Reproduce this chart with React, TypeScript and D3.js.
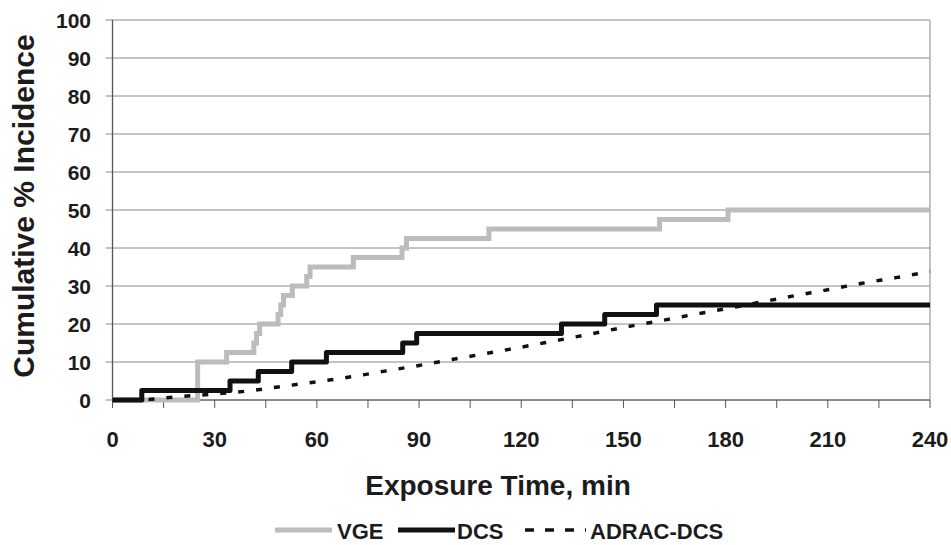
import React from "react";
import * as d3 from "d3";

// VGE cumulative incidence (step events: time in min, value in %)
const vgeTimes = [0, 25, 33.5, 41.5, 42.3, 43.2, 48.6, 49.4, 50.2, 52.8, 57, 58, 70.7, 85, 86.3, 110.5, 160.6, 180.7, 240];
const vgeValues = [0, 10, 12.5, 15, 17.5, 20, 22.5, 25, 27.5, 30, 32.5, 35, 37.5, 40, 42.5, 45, 47.5, 50, 50];

// DCS cumulative incidence (step events)
const dcsTimes = [0, 8.6, 34.5, 42.8, 52.6, 62.8, 85.2, 89.3, 131.8, 144.5, 159.7, 240];
const dcsValues = [0, 2.5, 5, 7.5, 10, 12.5, 15, 17.5, 20, 22.5, 25, 25];

// ADRAC-DCS predicted curve
const adracTimes = [0, 10, 15, 20, 30, 40, 50, 60, 70, 80, 90, 100, 110, 120, 130, 140, 150, 160, 170, 180, 190, 200, 210, 220, 230, 240];
const adracValues = [0, 0.1, 0.5, 0.9, 1.6, 2.4, 3.6, 4.8, 6.1, 7.6, 9.1, 10.7, 12.3, 13.9, 15.6, 17.3, 19.1, 20.7, 22.4, 24.0, 25.7, 27.4, 29.0, 30.7, 32.2, 33.8];

const yTicks = [0, 10, 20, 30, 40, 50, 60, 70, 80, 90, 100];
const xLabelTicks = [0, 30, 60, 90, 120, 150, 180, 210, 240];
const xMinorTicks = [0, 15, 30, 45, 60, 75, 90, 105, 120, 135, 150, 165, 180, 195, 210, 225, 240];

const legendLabels = ["VGE", "DCS", "ADRAC-DCS"];

const FONT = "'Liberation Sans', Arial, Helvetica, sans-serif";

export default function App() {
  const W = 951;
  const H = 545;
  const left = 112.5, right = 930, top = 20, bottom = 400;
  const x = d3.scaleLinear().domain([0, 240]).range([left, right]);
  const y = d3.scaleLinear().domain([0, 100]).range([bottom, top]);

  const stepLine = d3
    .line<[number, number]>()
    .x((d) => x(d[0]))
    .y((d) => y(d[1]))
    .curve(d3.curveStepAfter);
  const smoothLine = d3
    .line<[number, number]>()
    .x((d) => x(d[0]))
    .y((d) => y(d[1]))
    .curve(d3.curveMonotoneX);

  const vge = vgeTimes.map((t, i) => [t, vgeValues[i]] as [number, number]);
  const dcs = dcsTimes.map((t, i) => [t, dcsValues[i]] as [number, number]);
  const adrac = adracTimes.map((t, i) => [t, adracValues[i]] as [number, number]);

  const textColor = "#1c1c1c";
  const gridColor = "#8a8a8a";
  const vgeColor = "#bcbcbc";

  const legendY = 530;
  const legendBase = 539;

  return (
    <svg
      width={W}
      height={H}
      style={{ position: "absolute", left: 0, top: 0, background: "#fff" }}
      fontFamily={FONT}
    >
      <rect x={0} y={0} width={W} height={H} fill="#fff" />
      {/* gridlines */}
      {yTicks.map((t) => (
        <line key={"g" + t} x1={left - 7} x2={right} y1={y(t)} y2={y(t)} stroke={gridColor} strokeWidth={1} />
      ))}
      {/* right border */}
      <line x1={right} x2={right} y1={top} y2={bottom} stroke="#9a9a9a" strokeWidth={1.2} />
      {/* left axis */}
      <line x1={left} x2={left} y1={top} y2={bottom} stroke="#555" strokeWidth={1.3} />
      {/* bottom axis */}
      <line x1={left} x2={right} y1={bottom} y2={bottom} stroke="#777" strokeWidth={1.3} />
      {xMinorTicks.map((t) => (
        <line key={"xt" + t} x1={x(t)} x2={x(t)} y1={bottom} y2={bottom + 8} stroke="#555" strokeWidth={1} />
      ))}
      {/* y tick labels */}
      {yTicks.map((t) => (
        <text
          key={"yl" + t}
          x={91}
          y={y(t) + 8}
          textAnchor="end"
          fontSize={21}
          fontWeight="bold"
          fill={textColor}
        >
          {t}
        </text>
      ))}
      {/* x tick labels */}
      {xLabelTicks.map((t) => (
        <text
          key={"xl" + t}
          x={x(t)}
          y={447}
          textAnchor="middle"
          fontSize={22}
          fontWeight="bold"
          fill={textColor}
        >
          {t}
        </text>
      ))}
      {/* axis titles */}
      <text
        x={498}
        y={495}
        textAnchor="middle"
        fontSize={28}
        fontWeight="bold"
        fill={textColor}
      >
        Exposure Time, min
      </text>
      <text
        transform={`translate(34, 206) rotate(-90)`}
        textAnchor="middle"
        fontSize={30}
        fontWeight="bold"
        fill={textColor}
      >
        Cumulative % Incidence
      </text>

      {/* series */}
      <path d={stepLine(vge) || ""} fill="none" stroke={vgeColor} strokeWidth={5} />
      <path
        d={smoothLine(adrac) || ""}
        fill="none"
        stroke="#111"
        strokeWidth={3.5}
        strokeDasharray="6,12"
      />
      <path d={stepLine(dcs) || ""} fill="none" stroke="#111" strokeWidth={5} strokeLinejoin="round" />

      {/* legend */}
      <line x1={275} x2={332} y1={legendY} y2={legendY} stroke={vgeColor} strokeWidth={5} />
      <text x={337} y={legendBase} fontSize={22} fontWeight="bold" fill={textColor}>
        {legendLabels[0]}
      </text>
      <line x1={398} x2={455} y1={legendY} y2={legendY} stroke="#111" strokeWidth={5} />
      <text x={457} y={legendBase} fontSize={22} fontWeight="bold" fill={textColor}>
        {legendLabels[1]}
      </text>
      <line
        x1={525}
        x2={586}
        y1={legendY}
        y2={legendY}
        stroke="#111"
        strokeWidth={3.5}
        strokeDasharray="9,11"
      />
      <text x={590} y={legendBase} fontSize={22} fontWeight="bold" fill={textColor}>
        {legendLabels[2]}
      </text>
    </svg>
  );
}
